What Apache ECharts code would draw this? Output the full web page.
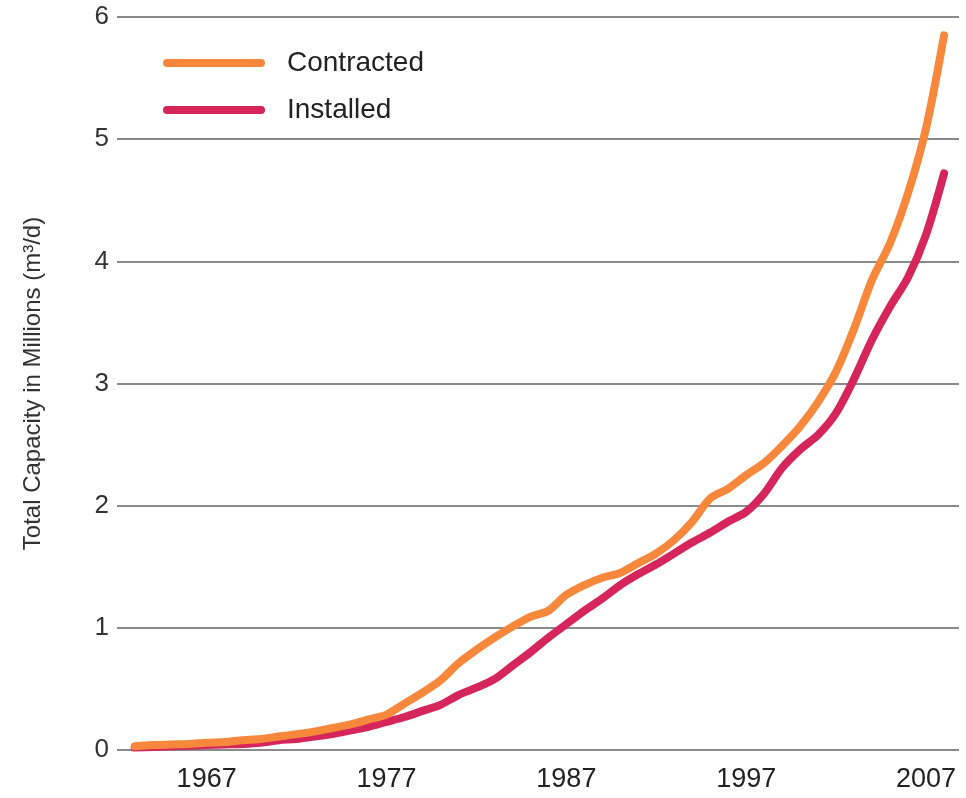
<!DOCTYPE html>
<html>
<head>
<meta charset="utf-8">
<script src="https://cdn.jsdelivr.net/npm/echarts@6/dist/echarts.min.js"></script>
<style>
  html, body { margin: 0; padding: 0; background: #fff; }
  #chart { width: 966px; height: 798px; }
</style>
</head>
<body>
<div id="chart"></div>
<script>
// years of the series
const years = [1963, 1964, 1965, 1966, 1967, 1968, 1969, 1970, 1971, 1972,
  1973, 1974, 1975, 1976, 1977, 1978, 1979, 1980, 1981, 1982,
  1983, 1984, 1985, 1986, 1987, 1988, 1989, 1990, 1991, 1992,
  1993, 1994, 1995, 1996, 1997, 1998, 1999, 2000, 2001, 2002,
  2003, 2004, 2005, 2006, 2007, 2008]

// total capacity, millions m3/d
const contracted = [0.03, 0.04, 0.045, 0.05, 0.06, 0.065, 0.08, 0.09, 0.11, 0.13,
  0.15, 0.18, 0.21, 0.25, 0.29, 0.38, 0.47, 0.57, 0.71, 0.82,
  0.92, 1.01, 1.09, 1.14, 1.27, 1.35, 1.41, 1.45, 1.53, 1.61,
  1.72, 1.87, 2.06, 2.14, 2.25, 2.35, 2.49, 2.65, 2.85, 3.10,
  3.45, 3.85, 4.15, 4.56, 5.09, 5.85]

const installed = [0.02, 0.025, 0.03, 0.035, 0.04, 0.045, 0.05, 0.06, 0.08, 0.09,
  0.11, 0.13, 0.16, 0.19, 0.23, 0.27, 0.32, 0.37, 0.45, 0.51,
  0.58, 0.69, 0.80, 0.92, 1.03, 1.14, 1.24, 1.35, 1.44, 1.52,
  1.61, 1.70, 1.78, 1.87, 1.95, 2.10, 2.31, 2.46, 2.58, 2.76,
  3.04, 3.36, 3.63, 3.87, 4.22, 4.72]

const yearLabels = [1967, 1977, 1987, 1997, 2007]
const yTicks = [0, 1, 2, 3, 4, 5, 6]

const chart = echarts.init(document.getElementById('chart'))

const capsule = 'path://M4,0 H98 A4,4 0 0 1 98,8 H4 A4,4 0 0 1 4,0 Z'

const option = {
  backgroundColor: '#fff',
  animation: false,
  grid: {
    left: 125,
    right: 7,
    top: 17,
    bottom: 48
  },
  legend: {
    orient: 'vertical',
    left: 158,
    top: 44,
    itemWidth: 104,
    itemHeight: 8,
    itemGap: 19,
    textStyle: {
      fontFamily: 'Liberation Sans',
      fontSize: 28,
      color: '#222',
      padding: [0, 0, 0, 16]
    },
    data: [
      { name: 'Contracted', icon: capsule },
      { name: 'Installed', icon: capsule }
    ]
  },
  xAxis: {
    type: 'value',
    min: 1962.46,
    max: 2008.83,
    axisLine: { show: false },
    axisTick: { show: false },
    splitLine: { show: false },
    axisLabel: {
      customValues: yearLabels,
      margin: 16,
      fontFamily: 'Liberation Sans',
      fontSize: 27,
      color: '#222',
      formatter: v => String(v)
    }
  },
  yAxis: {
    type: 'value',
    min: yTicks[0],
    max: yTicks[yTicks.length - 1],
    interval: 1,
    name: 'Total Capacity in Millions (m³/d)',
    nameLocation: 'middle',
    nameGap: 80,
    nameTextStyle: {
      fontFamily: 'Liberation Sans',
      fontSize: 24,
      color: '#333'
    },
    axisLine: { show: false },
    axisTick: {
      show: true,
      length: 8,
      lineStyle: { color: '#8a8a8a', width: 2 }
    },
    axisLabel: {
      margin: 16,
      fontFamily: 'Liberation Sans',
      fontSize: 26,
      color: '#333'
    },
    splitLine: {
      lineStyle: { color: '#8a8a8a', width: 2 }
    }
  },
  series: [
    {
      name: 'Contracted',
      type: 'line',
      showSymbol: false,
      smooth: 0.3,
      color: '#F7883B',
      lineStyle: { width: 8, cap: 'round', join: 'round' },
      data: years.map((y, i) => [y, contracted[i]]),
      z: 3
    },
    {
      name: 'Installed',
      type: 'line',
      showSymbol: false,
      smooth: 0.3,
      color: '#D6255A',
      lineStyle: { width: 8, cap: 'round', join: 'round' },
      data: years.map((y, i) => [y, installed[i]]),
      z: 2
    }
  ]
}

chart.setOption(option, true)
</script>
</body>
</html>
